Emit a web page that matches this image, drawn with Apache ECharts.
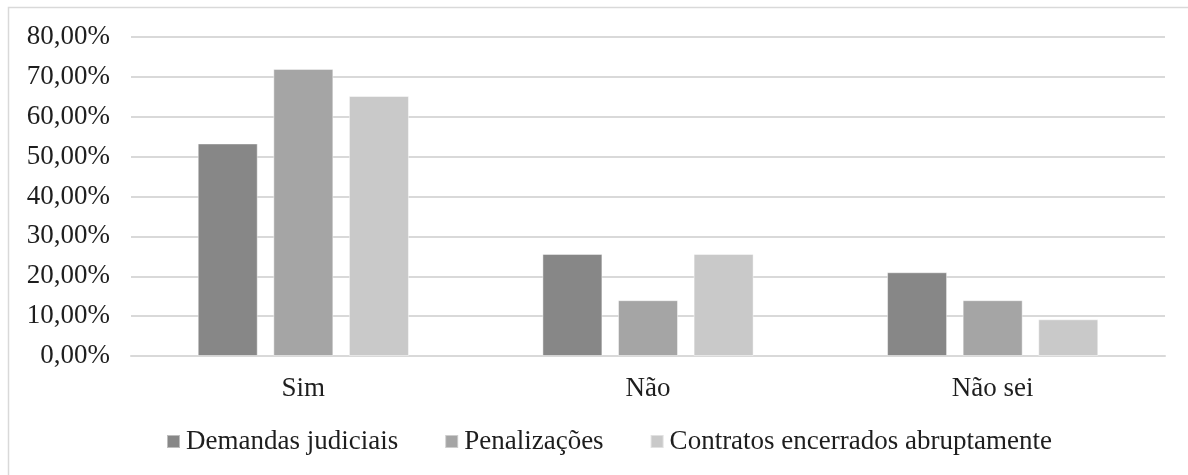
<!DOCTYPE html>
<html>
<head>
<meta charset="utf-8">
<script src="https://cdn.jsdelivr.net/npm/echarts@6/dist/echarts.min.js"></script>
<style>
  html, body { margin: 0; padding: 0; background: #ffffff; }
  #chart { width: 1188px; height: 475px; }
</style>
</head>
<body>
<div id="chart"></div>
<script>
// Response categories and the share (%) of answers for each consequence
const categories = ['Sim', 'Não', 'Não sei'];
const seriesNames = ['Demandas judiciais', 'Penalizações', 'Contratos encerrados abruptamente'];
const demandasJudiciais = [53.3, 25.6, 21.0];
const penalizacoes = [72.0, 14.0, 14.0];
const contratosEncerrados = [65.2, 25.6, 9.2];
const yTicks = { min: 0, max: 80, step: 10 };

const colors = ['#878787', '#a5a5a5', '#c9c9c9'];
const font = '"Liberation Serif", "Times New Roman", serif';
const fmtPct = v => v.toFixed(2).replace('.', ',') + '%';

const chart = echarts.init(document.getElementById('chart'), null, { renderer: 'canvas' });

const values = [demandasJudiciais, penalizacoes, contratosEncerrados];

chart.setOption({
  animation: false,
  backgroundColor: '#ffffff',
  textStyle: { fontFamily: font },
  graphic: [{
    type: 'rect',
    silent: true,
    shape: { x: 8.5, y: 7.5, width: 1400, height: 800 },
    style: { fill: 'none', stroke: '#d9d9d9', lineWidth: 1.5 }
  }],
  grid: { left: 131, right: 23, top: 37, bottom: 119 },
  legend: {
    data: seriesNames,
    left: 166,
    top: 428,
    padding: 0,
    itemWidth: 13,
    itemHeight: 13,
    itemGap: 46,
    icon: 'rect',
    textStyle: { fontFamily: font, fontSize: 27, color: '#1e1e1e', padding: [0, 0, 0, 1] }
  },
  xAxis: {
    type: 'category',
    data: categories,
    axisLine: { lineStyle: { color: '#d9d9d9', width: 2 } },
    axisTick: { show: false },
    axisLabel: { fontFamily: font, fontSize: 27, color: '#1e1e1e', margin: 19 }
  },
  yAxis: {
    type: 'value',
    min: yTicks.min,
    max: yTicks.max,
    interval: yTicks.step,
    axisLine: { show: false },
    axisTick: { show: false },
    splitLine: { lineStyle: { color: '#d9d9d9', width: 2 } },
    axisLabel: { fontFamily: font, fontSize: 27, color: '#1e1e1e', margin: 21, formatter: fmtPct }
  },
  series: seriesNames.map((name, i) => ({
    name,
    type: 'bar',
    data: values[i],
    barWidth: 60,
    barGap: '26%',
    itemStyle: { color: colors[i], borderColor: 'rgba(255,255,255,0.45)', borderWidth: 1 }
  }))
});
</script>
</body>
</html>
